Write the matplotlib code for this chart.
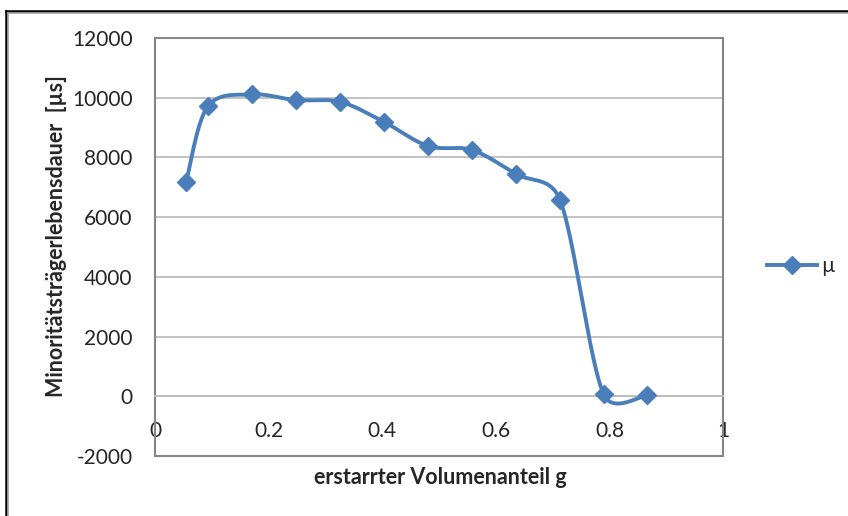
import numpy as np
import matplotlib
matplotlib.use("Agg")
import matplotlib.pyplot as plt
from matplotlib.lines import Line2D
from matplotlib.patches import Rectangle

plt.rcParams['font.family'] = ['Lato', 'DejaVu Sans']
plt.rcParams['axes.unicode_minus'] = False

# solidified volume fraction g and minority carrier lifetime
g_values = [0.055, 0.093, 0.171, 0.248, 0.326, 0.403, 0.481, 0.558, 0.636, 0.713, 0.790, 0.867]
lifetime = [7190, 9710, 10110, 9920, 9860, 9190, 8380, 8250, 7440, 6580, 60, 30]
series_name = "µ"
x_ticks = [0, 0.2, 0.4, 0.6, 0.8, 1]
x_tick_labels = ["0", "0.2", "0.4", "0.6", "0.8", "1"]
y_ticks = [-2000, 0, 2000, 4000, 6000, 8000, 10000, 12000]

BLUE = "#4a7ebb"
TEXT = "#262626"
GRID = "#bdbdbd"
BORDER = "#868686"

W, H = 848, 516
fig = plt.figure(figsize=(W / 100, H / 100), dpi=100)
fig.patch.set_facecolor("white")
ax = fig.add_axes([155 / W, 1 - 456 / H, (723 - 155) / W, (456 - 38) / H])
ax.set_xlim(0, 1)
ax.set_ylim(-2000, 12000)


def smooth_curve(xs, ys, transform, n=40):
    """Bezier smoothing in screen space with arm lengths limited to half
    of the adjacent segment (spreadsheet-style smoothed line)."""
    pts = transform.transform(np.column_stack([xs, ys]))
    m = len(pts)
    out = [pts[0]]
    t = np.linspace(0, 1, n)[1:, None]
    for i in range(m - 1):
        p0 = pts[i - 1] if i > 0 else pts[i]
        p1 = pts[i]
        p2 = pts[i + 1]
        p3 = pts[i + 2] if i + 2 < m else pts[i + 1]
        d02 = np.linalg.norm(p2 - p0)
        d12 = np.linalg.norm(p2 - p1)
        d13 = np.linalg.norm(p3 - p1)
        f0 = 1 / 6 if d02 / 6 < d12 / 2 else (d12 / (2 * d02) if d02 > 0 else 0)
        f1 = 1 / 6 if d13 / 6 < d12 / 2 else (d12 / (2 * d13) if d13 > 0 else 0)
        c1 = p1 + f0 * (p2 - p0)
        c2 = p2 - f1 * (p3 - p1)
        seg = ((1 - t) ** 3) * p1 + 3 * ((1 - t) ** 2) * t * c1 \
            + 3 * (1 - t) * t ** 2 * c2 + t ** 3 * p2
        out.extend(seg)
    out = np.array(out)
    data = transform.inverted().transform(out)
    return data[:, 0], data[:, 1]


sx, sy = smooth_curve(g_values, lifetime, ax.transData)
ax.plot(sx, sy, color=BLUE, lw=2.8, solid_capstyle="round", zorder=3)
ax.plot(g_values, lifetime, linestyle="none", marker="D", ms=9.5,
        color=BLUE, zorder=4)

# legend entry: line with a single diamond
handle = Line2D([], [], color=BLUE, lw=2.8, marker="D", ms=9.5)
fig.legend([handle], [series_name], loc="center left",
           bbox_to_anchor=(748 / W, 1 - 266 / H), frameon=False,
           fontsize=15, handlelength=2.4, handletextpad=0.2,
           numpoints=1, labelcolor=TEXT)

# gridlines and axes
ax.set_yticks(y_ticks)
ax.set_xticks(x_ticks)
ax.set_xticklabels(x_tick_labels)
for yv in y_ticks:
    ax.axhline(yv, color=GRID, lw=1.3, zorder=1)
for side in ("top", "right"):
    ax.spines[side].set_visible(False)
ax.spines["bottom"].set_position(("data", 0))
ax.spines["bottom"].set_color(GRID)
ax.spines["bottom"].set_linewidth(1.3)
ax.spines["left"].set_color(BORDER)
ax.spines["left"].set_linewidth(1.3)
ax.add_patch(Rectangle((0, 0), 1, 1, transform=ax.transAxes, fill=False,
                       edgecolor=BORDER, lw=1.5, zorder=2, clip_on=False))

ax.tick_params(axis="y", length=0, pad=16, labelsize=15, labelcolor=TEXT)
ax.tick_params(axis="x", length=0, pad=18, labelsize=15, labelcolor=TEXT)

fig.text(440 / W, 1 - 478 / H, "erstarrter Volumenanteil g", ha="center",
         va="center", fontsize=15.5, fontweight="bold", color=TEXT)
fig.text(57 / W, 1 - 236 / H, "Minoritätsträgerlebensdauer  [µs]",
         ha="center", va="center", rotation=90, fontsize=15.5,
         fontweight="bold", color=TEXT)

# outer frame of the chart object
fig.add_artist(Line2D([6 / W, 1], [1 - 10.5 / H, 1 - 10.5 / H],
                      transform=fig.transFigure, color="black", lw=1.8))
fig.add_artist(Line2D([6 / W, 6 / W], [0, 1 - 10.5 / H],
                      transform=fig.transFigure, color="black", lw=1.8))
fig.add_artist(Line2D([8 / W, 1], [1 - 12.8 / H, 1 - 12.8 / H],
                      transform=fig.transFigure, color="#a0a0a0", lw=1.2))
fig.add_artist(Line2D([8.3 / W, 8.3 / W], [0, 1 - 12.8 / H],
                      transform=fig.transFigure, color="#a0a0a0", lw=1.2))

fig.savefig("out.png", dpi=100)
